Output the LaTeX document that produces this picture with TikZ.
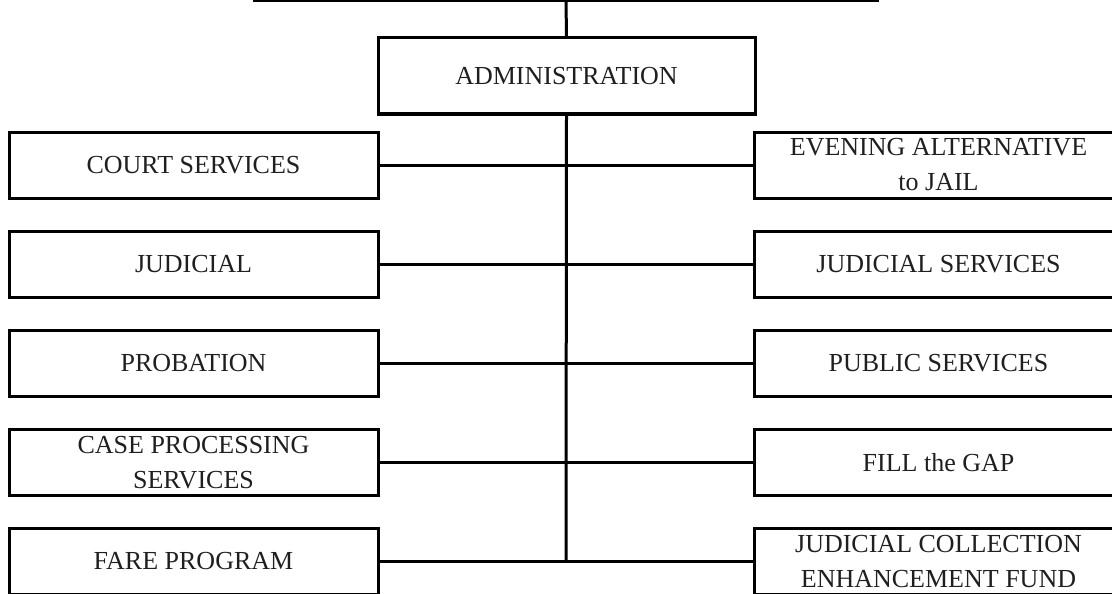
\documentclass[tikz,border=0pt]{standalone}
\usepackage{fontspec}
\setmainfont{Liberation Serif}
\begin{document}
\begin{tikzpicture}[x=1pt,y=-1pt,
  unit/.style={draw=black,line width=3pt,minimum width=369pt,minimum height=66pt,
    inner sep=0pt,align=center,font=\fontsize{26}{35}\selectfont,text=black!88},
  headbox/.style={unit,minimum width=377pt,minimum height=76pt},
  link/.style={draw=black,line width=3pt}]
\useasboundingbox (0,0) rectangle (1112,594);
\clip (0,0) rectangle (1112,594);

% head of the chart
\node[headbox] (admin) at (566.5,76) {ADMINISTRATION};
\coordinate (barL) at (252.5,1);
\coordinate (barR) at (878.5,1);
\coordinate (barM) at (566,1);
\coordinate (spineEnd) at (566,561.5);

% left column
\node[unit] (l1) at (193.5,165)   {COURT SERVICES};
\node[unit] (l2) at (193.5,264.5) {JUDICIAL};
\node[unit] (l3) at (193.5,363.5) {PROBATION};
\node[unit] (l4) at (193.5,462.5) {CASE PROCESSING\\SERVICES};
\node[unit] (l5) at (193.5,561.5) {FARE PROGRAM};

% right column
\node[unit] (r1) at (938.5,165)   {EVENING ALTERNATIVE\\to JAIL};
\node[unit] (r2) at (938.5,264.5) {JUDICIAL SERVICES};
\node[unit] (r3) at (938.5,363.5) {PUBLIC SERVICES};
\node[unit] (r4) at (938.5,462.5) {FILL the GAP};
\node[unit] (r5) at (938.5,561.5) {JUDICIAL COLLECTION\\ENHANCEMENT FUND};

% connectors
\draw[link] (barL) -- (barR);
\draw[link] (barM) -- (admin.north);
\draw[link] (admin.south) -- (spineEnd);
\foreach \i in {1,...,5}{
  \draw[link] (l\i.east) -- (r\i.west);
}
\end{tikzpicture}
\end{document}
